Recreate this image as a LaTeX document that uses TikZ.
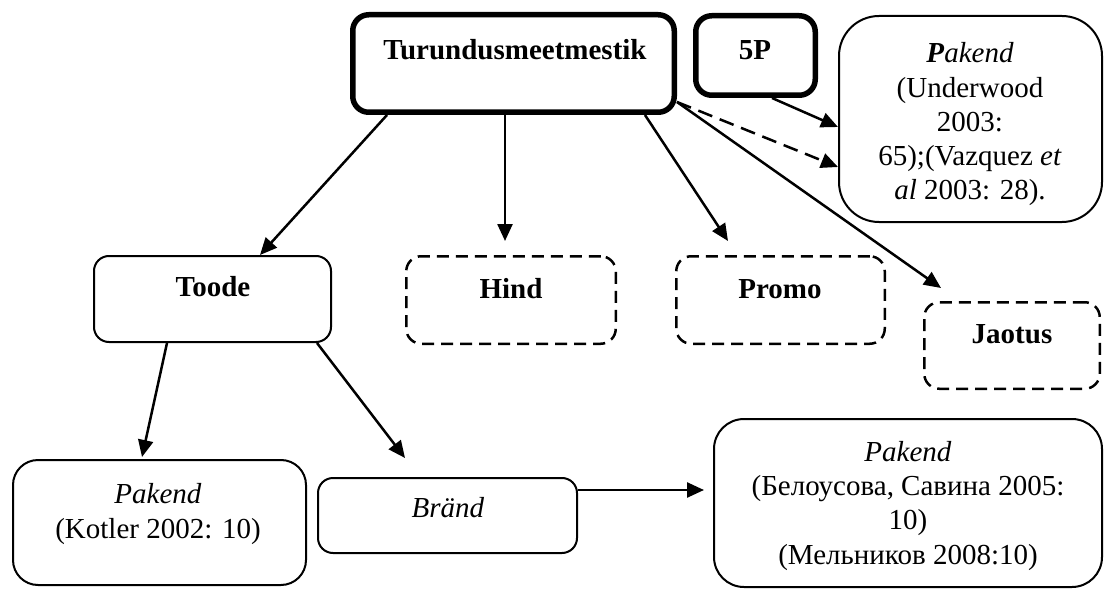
\documentclass[tikz,border=0pt]{standalone}
\usepackage{fontspec}
\setmainfont{Liberation Serif}
\usetikzlibrary{arrows.meta}
\begin{document}
\begin{tikzpicture}[x=1pt,y=-1pt,
  txt/.style={inner sep=0pt, outer sep=0pt, anchor=base, align=center, font=\fontsize{29}{34.3}\selectfont},
  btxt/.style={txt, font=\fontsize{29}{34}\selectfont\bfseries},
  thickbox/.style={draw, line width=5.5pt, rounded corners=16pt, inner sep=0pt},
  thinbox/.style={draw, line width=2pt, rounded corners=#1, inner sep=0pt},
  dashbox/.style={draw, line width=2.5pt, rounded corners=15pt, inner sep=0pt, dash pattern=on 12pt off 7pt},
  arr/.style={line width=2.5pt, -{Triangle[length=17pt,width=15pt]}},
  darr/.style={arr, dash pattern=on 15pt off 8pt}
]
\useasboundingbox (0,0) rectangle (1106,591);
% boxes
\node[thickbox, minimum width=321.5pt, minimum height=97.5pt] (T) at (513.5,63.5) {};
\node[thickbox, minimum width=119.5pt, minimum height=79.5pt] (P5) at (755.5,55.5) {};
\node[thinbox=40pt, minimum width=263pt, minimum height=206pt] (RT) at (970.5,119) {};
\node[thinbox=15pt, minimum width=237pt, minimum height=86pt] (To) at (212.5,299) {};
\node[dashbox, minimum width=209.5pt, minimum height=87.5pt] (Hi) at (511,300) {};
\node[dashbox, minimum width=208.5pt, minimum height=87.5pt] (Pr) at (780.5,300) {};
\node[dashbox, minimum width=175.5pt, minimum height=86.5pt] (Ja) at (1012,345.5) {};
\node[thinbox=25pt, minimum width=293pt, minimum height=125pt] (Ko) at (159.5,522.5) {};
\node[thinbox=15pt, minimum width=259pt, minimum height=75pt] (Br) at (447.5,515.5) {};
\node[thinbox=30pt, minimum width=388pt, minimum height=168pt] (BR) at (908,503) {};
% texts (multi-line nodes: anchor base = last line)
\node[btxt] (tT) at (515,60) {Turundusmeetmestik};
\node[btxt] (tP5) at (755,60) {5P};
\node[txt] (tRT) at (970,200) {\textbf{\textit{P}}\textit{akend}\\(Underwood\\2003:\\65);(Vazquez \textit{et}\\\textit{al} 2003: 28).};
\node[btxt] (tTo) at (213,296) {Toode};
\node[btxt] (tHi) at (511,298) {Hind};
\node[btxt] (tPr) at (780,298) {Promo};
\node[btxt] (tJa) at (1012,343) {Jaotus};
\node[txt] (tKo) at (158,538) {\textit{Pakend}\\(Kotler 2002: 10)};
\node[txt] (tBr) at (448,517) {\textit{Bränd}};
\node[txt] (tBR) at (908,564) {\textit{Pakend}\\(Белоусова, Савина 2005:\\10)\\(Мельников 2008:10)};
% connectors
\draw[arr] ([xshift=-126.5pt]T.south) -- ([xshift=47.5pt]To.north);
\draw[arr] ([xshift=-8.5pt]T.south) -- ([xshift=-6pt,yshift=14pt]Hi.north);
\draw[arr] ([xshift=131.5pt]T.south) -- ([xshift=-52.5pt,yshift=14pt]Pr.north);
\draw[arr] ([yshift=13pt]T.south east) -- ([xshift=-71pt,yshift=13pt]Ja.north);
\draw[darr] ([yshift=13pt]T.south east) -- ([yshift=-48pt]RT.west);
\draw[arr] ([xshift=16.5pt]P5.south) -- ([yshift=-8pt]RT.west);
\draw[arr] ([xshift=-45.5pt]To.south) -- ([xshift=-17.5pt,yshift=2pt]Ko.north);
\draw[arr] ([xshift=104.5pt]To.south) -- ([xshift=-42.5pt,yshift=19pt]Br.north);
\draw[arr] ([yshift=25.5pt]Br.east) -- ([xshift=-9pt,yshift=13pt]BR.west);
\end{tikzpicture}
\end{document}
